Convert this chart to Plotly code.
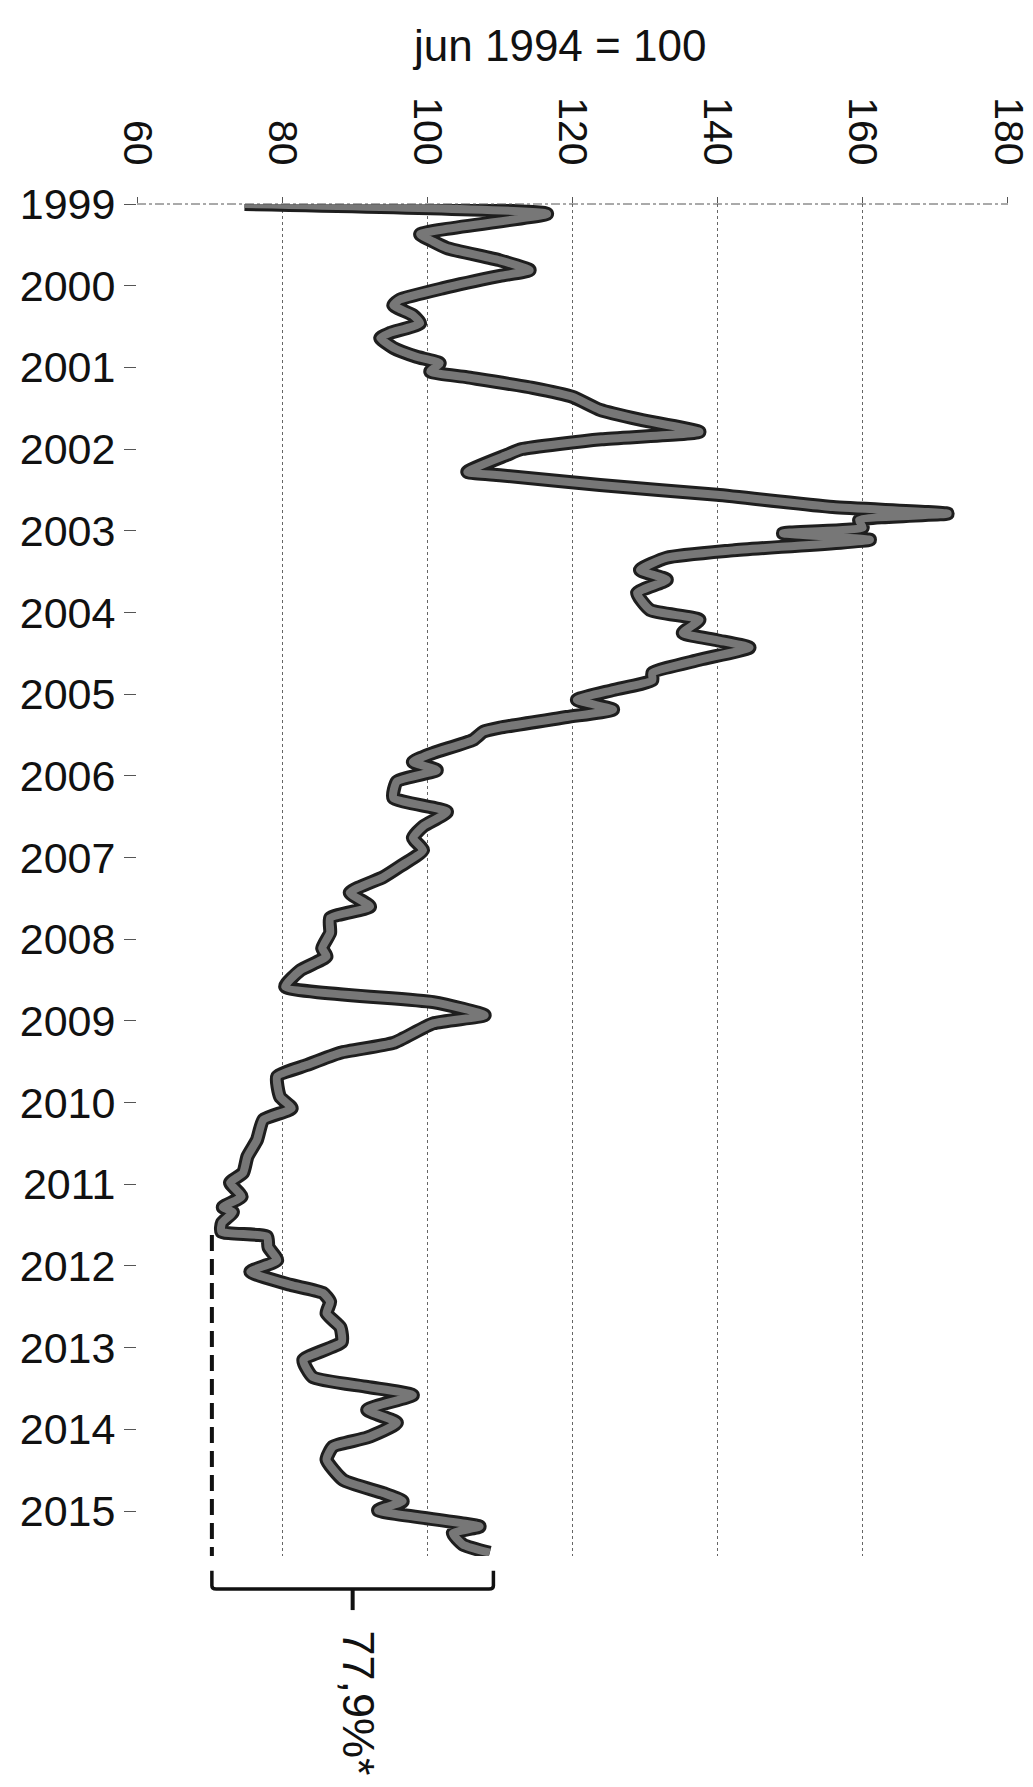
import plotly.graph_objects as go

# Index series, jun 1994 = 100, sampled along time (decimal years)
years = [
    1999.00, 1999.12, 1999.37, 1999.46, 1999.54, 1999.69, 1999.81, 1999.88,
    2000.03, 2000.17, 2000.24, 2000.36, 2000.46, 2000.58, 2000.64, 2000.76,
    2000.87, 2000.95, 2001.05, 2001.12, 2001.25, 2001.36, 2001.52, 2001.64,
    2001.79, 2001.88, 2002.00, 2002.07, 2002.28, 2002.32, 2002.44, 2002.56,
    2002.71, 2002.79, 2002.87, 2002.96, 2003.03, 2003.11, 2003.24, 2003.33,
    2003.48, 2003.60, 2003.76, 2003.97, 2004.09, 2004.25, 2004.34, 2004.43,
    2004.58, 2004.74, 2004.83, 2004.95, 2005.07, 2005.19, 2005.28, 2005.41,
    2005.46, 2005.56, 2005.72, 2005.83, 2005.93, 2006.07, 2006.27, 2006.44,
    2006.62, 2006.76, 2006.91, 2007.11, 2007.24, 2007.43, 2007.60, 2007.74,
    2007.92, 2008.11, 2008.21, 2008.38, 2008.58, 2008.77, 2008.93, 2009.03,
    2009.27, 2009.39, 2009.54, 2009.68, 2009.93, 2010.07, 2010.21, 2010.46,
    2010.66, 2010.86, 2010.98, 2011.15, 2011.28, 2011.34, 2011.47, 2011.58,
    2011.64, 2011.77, 2011.93, 2012.07, 2012.23, 2012.33, 2012.44, 2012.58,
    2012.75, 2012.93, 2013.15, 2013.36, 2013.48, 2013.58, 2013.76, 2013.92,
    2014.10, 2014.21, 2014.37, 2014.62, 2014.78, 2014.88, 2014.99, 2015.19,
    2015.27, 2015.41, 2015.51,
]
index_values = [
    74.8, 116.5, 99.0, 100.8, 102.7, 110.0, 114.1, 110.0,
    102.2, 96.2, 95.3, 98.0, 99.0, 94.8, 93.5, 95.3,
    98.5, 101.7, 100.4, 105.4, 114.5, 120.0, 123.8, 129.3,
    137.5, 124.0, 113.0, 111.0, 105.5, 110.0, 123.8, 139.9,
    155.9, 171.7, 159.5, 160.0, 149.0, 161.0, 142.1, 133.0,
    129.3, 133.0, 128.9, 130.7, 137.5, 135.2, 139.9, 144.4,
    137.5, 131.0, 131.0, 125.6, 120.6, 125.6, 119.2, 110.0,
    107.7, 106.3, 100.8, 98.0, 101.3, 95.8, 95.3, 102.7,
    99.4, 98.0, 99.4, 96.2, 93.9, 89.3, 92.1, 86.6,
    86.6, 85.5, 86.1, 82.5, 80.4, 100.8, 107.9, 100.8,
    95.3, 88.0, 83.4, 79.3, 79.7, 81.3, 77.4, 76.5,
    75.2, 74.6, 72.8, 74.4, 71.8, 73.2, 71.7, 71.6,
    77.9, 78.1, 79.3, 75.6, 81.1, 85.6, 86.6, 86.1,
    88.0, 88.2, 82.9, 84.2, 91.7, 98.0, 91.7, 95.8,
    91.7, 87.0, 86.1, 88.4, 93.9, 96.6, 93.2, 107.2,
    103.5, 104.9, 108.6,
]

year_ticks = list(range(1999, 2016))
year_labels = [str(y) for y in year_ticks]
value_ticks = [60, 80, 100, 120, 140, 160, 180]
value_labels = [str(v) for v in value_ticks]

title_text = "jun 1994 = 100"
change_label = "77,9%*"

FONT = "Liberation Sans, Arial, sans-serif"

fig = go.Figure()

# thick stroke: dark outline with a grey core
fig.add_trace(go.Scatter(
    x=index_values, y=years, mode="lines",
    line=dict(color="#1e1e1e", width=14, shape="spline", smoothing=0.5),
    hoverinfo="skip", showlegend=False,
))
fig.add_trace(go.Scatter(
    x=index_values, y=years, mode="lines",
    line=dict(color="#777777", width=8, shape="spline", smoothing=0.5),
    showlegend=False,
))

# bracket from the trough to the latest value
i_min = min(range(len(index_values)), key=lambda i: index_values[i])
lo = index_values[i_min] - 1.3
hi = index_values[-1] + 0.5
mid = (lo + hi) / 2

shapes = []
# dashed drop line from the trough
shapes.append(dict(type="line", xref="x", yref="y",
                   x0=lo, x1=lo, y0=years[i_min] + 0.04, y1=2015.55,
                   line=dict(color="#111", width=4, dash="16px,8px")))
# brace
shapes.append(dict(type="path", xref="x", yref="paper",
                   path=f"M {lo},-0.011 L {lo},-0.022 Q {lo},-0.0245 {lo+0.6},-0.0245 "
                        f"L {hi-0.6},-0.0245 Q {hi},-0.0245 {hi},-0.022 L {hi},-0.011",
                   line=dict(color="#111", width=3.5)))
shapes.append(dict(type="line", xref="x", yref="paper",
                   x0=mid, x1=mid, y0=-0.0245, y1=-0.040,
                   line=dict(color="#111", width=4)))
# top frame line at the first year
shapes.append(dict(type="line", xref="paper", yref="paper",
                   x0=0, x1=1, y0=1, y1=1,
                   line=dict(color="#555", width=1, dash="dashdot")))

fig.update_layout(
    width=1033, height=1787,
    margin=dict(l=137, r=25, t=204, b=231, autoexpand=False),
    paper_bgcolor="white", plot_bgcolor="white",
    font=dict(family=FONT, size=43, color="#111"),
    shapes=shapes,
    xaxis=dict(
        side="top", range=[59.98, 180.02], automargin=False,
        tickvals=value_ticks, ticktext=value_labels, tickangle=90,
        ticks="outside", ticklen=6, tickcolor="#555",
        ticklabelstandoff=17,
        showgrid=True, gridcolor="#666", griddash="dot", gridwidth=1,
        zeroline=False, showline=False,
        tickfont=dict(family=FONT, size=41, color="#111"),
    ),
    yaxis=dict(
        range=[2015.55, 1999.0], automargin=False,
        tickvals=year_ticks, ticktext=year_labels,
        ticks="outside", ticklen=12, tickcolor="#555",
        showgrid=False, zeroline=False, showline=False,
        tickfont=dict(family=FONT, size=43, color="#111"),
    ),
    annotations=[
        dict(text=title_text, xref="paper", yref="paper",
             x=0.4845, y=1.117, xanchor="center", yanchor="middle",
             showarrow=False, font=dict(family=FONT, size=44, color="#111")),
        dict(text=change_label, xref="x", yref="paper",
             x=mid + 0.8, y=-0.1087, xanchor="center", yanchor="middle",
             textangle=90, showarrow=False,
             font=dict(family=FONT, size=45, color="#111")),
    ],
)

fig.write_html("out.html")
